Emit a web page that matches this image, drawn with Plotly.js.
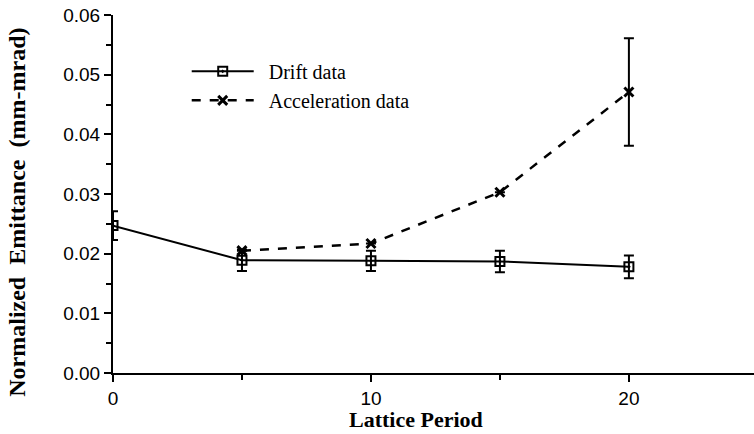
<!DOCTYPE html>
<html>
<head>
<meta charset="utf-8">
<script src="https://cdn.plot.ly/plotly-3.0.1.min.js"></script>
<style>html,body{margin:0;padding:0;background:#fff;}#chart{width:754px;height:434px;}</style>
</head>
<body>
<div id="chart"></div>
<script>
// Data
var driftPeriod = [0, 5, 10, 15, 20];
var driftEmittance = [0.0247, 0.0189, 0.0188, 0.0187, 0.0178];
var driftError = [0.0024, 0.0018, 0.0017, 0.0018, 0.0019];

var accelPeriod = [5, 10, 15, 20];
var accelEmittance = [0.0205, 0.0217, 0.0303, 0.0471];
var accelError = [null, null, null, 0.009];

var xTickVals = [0, 10, 20];
var yTickVals = [0, 0.01, 0.02, 0.03, 0.04, 0.05, 0.06];

var seriesNames = ['Drift data', 'Acceleration data'];
var xTitle = 'Lattice Period';
var yTitle = 'Normalized  Emittance  (mm-mrad)';

var serif = 'Liberation Serif, Times New Roman, serif';
var sans = 'Liberation Sans, Arial, sans-serif';
var pad = '\u00a0\u00a0';

var traces = [
  {
    x: driftPeriod, y: driftEmittance, name: pad + seriesNames[0],
    type: 'scatter', mode: 'lines+markers',
    line: {color: '#000', width: 2, dash: 'solid'},
    marker: {symbol: 'square-open-dot', size: 9, color: '#000', line: {width: 2, color: '#000'}},
    error_y: {type: 'data', array: driftError, visible: true, color: '#000', thickness: 2, width: 5}
  },
  {
    x: accelPeriod, y: accelEmittance, name: pad + seriesNames[1],
    type: 'scatter', mode: 'lines+markers',
    line: {color: '#000', width: 2.5, dash: 'dash'},
    marker: {symbol: 'x-thin-open', size: 9, color: '#000', line: {width: 3, color: '#000'}},
    error_y: {type: 'data', array: accelError, visible: true, color: '#000', thickness: 2, width: 5}
  }
];

var layout = {
  width: 754, height: 434,
  margin: {l: 113, r: 0, t: 15, b: 61},
  paper_bgcolor: '#fff', plot_bgcolor: '#fff',
  showlegend: true,
  legend: {
    x: 0.115, y: 0.897, xanchor: 'left', yanchor: 'top',
    font: {family: serif, size: 20, color: '#000'},
    itemwidth: 62,
    bgcolor: 'rgba(0,0,0,0)', tracegroupgap: 0
  },
  xaxis: {
    range: [0, 24.85], tickvals: xTickVals, ticktext: xTickVals.map(String),
    showline: true, linecolor: '#000', linewidth: 2, mirror: false,
    ticks: 'outside', ticklen: 7, tickwidth: 2, tickcolor: '#000',
    minor: {tickvals: [5, 15], ticks: 'outside', ticklen: 5, tickwidth: 2, tickcolor: '#000', showgrid: false},
    showgrid: false, zeroline: false,
    tickfont: {family: sans, size: 19, color: '#000'}
  },
  yaxis: {
    range: [0, 0.06], tickvals: yTickVals, tickformat: '.2f',
    showline: true, linecolor: '#000', linewidth: 2,
    ticks: 'outside', ticklen: 7, tickwidth: 2, tickcolor: '#000',
    minor: {tickvals: [0.005, 0.015, 0.025, 0.035, 0.045, 0.055], ticks: 'outside', ticklen: 5, tickwidth: 2, tickcolor: '#000', showgrid: false},
    showgrid: false, zeroline: false,
    tickfont: {family: sans, size: 19, color: '#000'}
  },
  annotations: [
    {text: '<b>' + xTitle + '</b>', xref: 'paper', yref: 'paper', x: 0.473, y: -0.13,
     xanchor: 'center', yanchor: 'middle', showarrow: false,
     font: {family: serif, size: 22, color: '#000'}},
    {text: '<b>' + yTitle + '</b>', xref: 'paper', yref: 'paper', x: -0.15, y: 0.45,
     xanchor: 'center', yanchor: 'middle', showarrow: false, textangle: -90,
     font: {family: serif, size: 24, color: '#000'}}
  ]
};

Plotly.newPlot('chart', traces, layout, {displayModeBar: false, staticPlot: true});
</script>
</body>
</html>
